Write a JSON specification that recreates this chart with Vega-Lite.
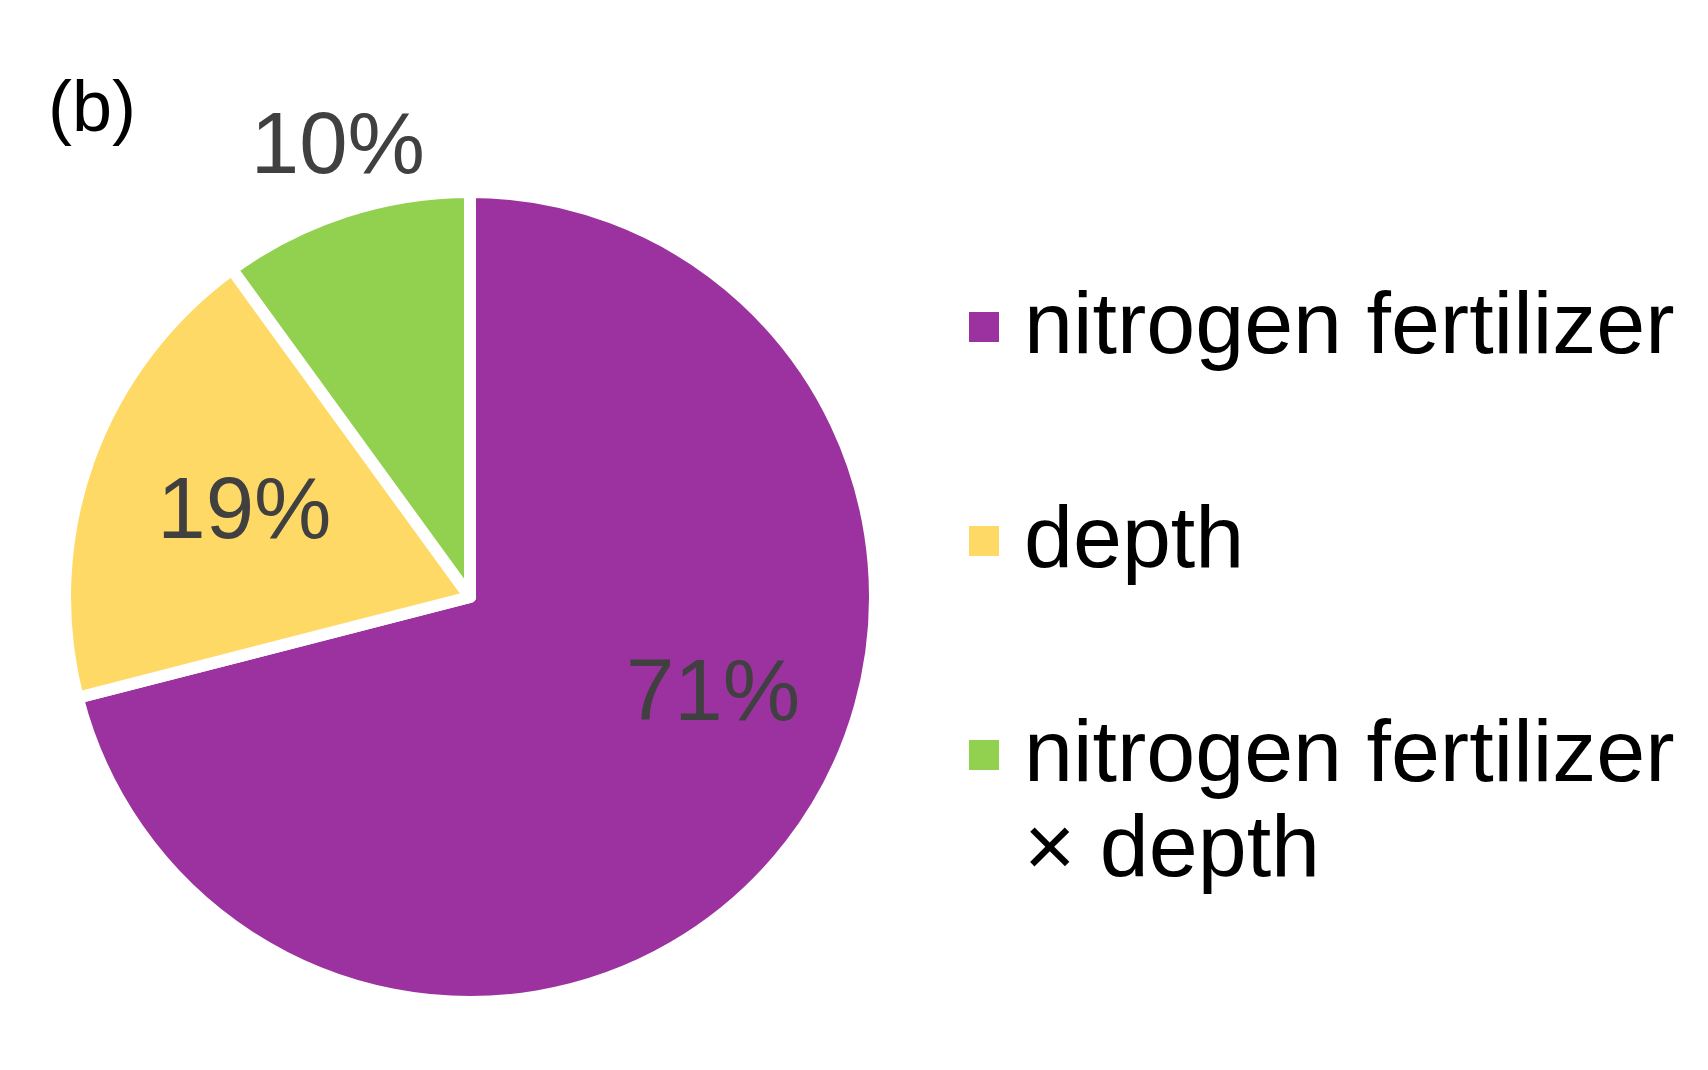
{
  "$schema": "https://vega.github.io/schema/vega-lite/v6.json",
  "width": 940,
  "height": 946,
  "autosize": {"type": "none"},
  "padding": {"left": 0, "top": 124, "right": 768, "bottom": 0},
  "background": "white",
  "config": {"style": {"guide-label": {"lineHeight": 95}}},
  "title": {
    "text": "(b)",
    "anchor": "start",
    "frame": "group",
    "font": "Liberation Sans",
    "fontSize": 72,
    "fontWeight": "normal",
    "color": "#000000",
    "baseline": "alphabetic",
    "offset": 0,
    "dx": 48,
    "dy": 100
  },
  "data": {
    "values": [
      {"factor": "nitrogen fertilizer", "share": 71, "label": "71%", "idx": 1},
      {"factor": "depth", "share": 19, "label": "19%", "idx": 2},
      {"factor": "nitrogen fertilizer × depth", "share": 10, "label": "10%", "idx": 3}
    ]
  },
  "encoding": {
    "theta": {"field": "share", "type": "quantitative", "stack": true},
    "order": {"field": "idx", "type": "quantitative", "sort": "ascending"},
    "color": {
      "field": "factor",
      "type": "nominal",
      "sort": null,
      "scale": {
        "domain": ["nitrogen fertilizer", "depth", "nitrogen fertilizer × depth"],
        "range": ["#9B329F", "#FFD966", "#92D050"]
      },
      "legend": {
        "title": null,
        "orient": "none",
        "legendX": 940,
        "legendY": 159,
        "symbolType": "square",
        "symbolSize": 900,
        "symbolStrokeWidth": 0,
        "symbolOpacity": 1,
        "labelFont": "Liberation Sans",
        "labelFontSize": 88,
        "labelColor": "#000000",
        "labelLimit": 0,
        "labelOffset": -4,
        "rowPadding": 126,
        "padding": 0,
        "labelExpr": "datum.label == 'nitrogen fertilizer × depth' ? ['nitrogen fertilizer', '× depth'] : datum.label",
        "encode": {"labels": {"update": {"lineHeight": {"value": 95}}}}
      }
    }
  },
  "layer": [
    {
      "mark": {"type": "arc", "outerRadius": 405, "stroke": "white", "strokeWidth": 12, "strokeJoin": "round"}
    },
    {
      "mark": {
        "type": "text",
        "font": "Liberation Sans",
        "fontSize": 87,
        "radius": {"expr": "datum.idx == 1 ? 262 : datum.idx == 2 ? 243 : 473"},
        "dx": {"expr": "datum.idx == 1 ? 36 : datum.idx == 3 ? 14 : datum.idx == 2 ? 3 : 0"},
        "dy": {"expr": "datum.idx == 1 ? -64 : datum.idx == 2 ? -3 : 0"}
      },
      "encoding": {"text": {"field": "label"}, "color": {"value": "#404040"}}
    }
  ]
}
